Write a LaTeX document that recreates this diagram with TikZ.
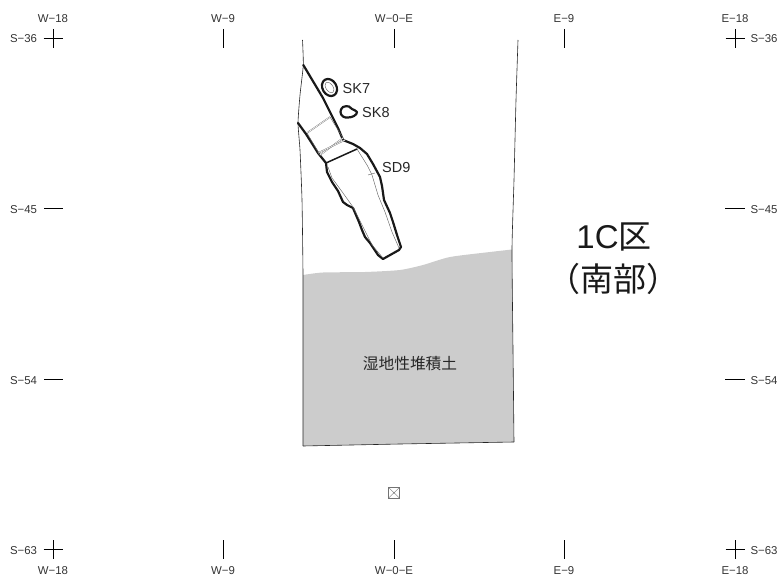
\documentclass[tikz,border=0pt]{standalone}
\usepackage{fontspec}
\setmainfont{Liberation Sans}
\newfontfamily\jpfont{Noto Sans CJK JP}
\tikzset{
  thinline/.style={draw=black!85,line width=0.6pt},
  heavy/.style={draw=black!90,line width=2.2pt,line join=round,line cap=round},
  fineline/.style={draw=black!60,line width=0.45pt},
  gridmark/.style={draw=black,line width=0.7pt},
  gridlabel/.style={inner sep=0pt,text=black!80,font=\fontsize{11.4}{13}\selectfont},
  featlabel/.style={inner sep=0pt,anchor=west,text=black!85,font=\fontsize{14.5}{16}\selectfont},
}
\begin{document}
\begin{tikzpicture}[x=1pt,y=-1pt]
\useasboundingbox (0,0) rectangle (782,580);
% gray deposit
\fill[black!20] plot[smooth,tension=.4] coordinates {(303,275) (323,272.5) (365,272) (400,270) (423,265) (450,257) (490,252) (512,249.5)} -- (514,442) -- (400,444) -- (303,446) -- cycle;
% trench outline
\draw[thinline] plot[smooth,tension=.3] coordinates {(302.5,40) (303.3,65) (300,95) (298,123) (300,150) (302,200) (303,275) (303,360) (303,446)};
\draw[thinline] (303,446) -- (400,444) -- (514,442);
\draw[thinline] plot[smooth,tension=.3] coordinates {(518,40) (516,100) (514,180) (512,249) (513,350) (514,442)};
% SD9 and ditch, heavy outline
\draw[heavy] (303.3,65) -- (323,98) -- (328,108) -- (338,128) -- (343,140) -- (353,144) -- (360,148) -- (367,154) -- (373,164) -- (380,177) -- (382,186) -- (384,200) -- (390,213) -- (393,222) -- (397,235) -- (401,247) -- (399,250) -- (383,259) -- (378,255) -- (370,243) -- (365,237) -- (362,230) -- (359,222) -- (353,208) -- (347,205) -- (343,202) -- (338,191) -- (332,182) -- (327,172) -- (326,163) -- (318,153) -- (313,145) -- (306,134) -- (298,123);
\draw[heavy,line width=1.5pt] (326,163) -- (357,149);
% inner thin lines
\draw[fineline,double,double distance=0.6pt,line width=.35pt] (307,133) -- (330,117);
\draw[fineline,double,double distance=0.6pt,line width=.35pt] (320,155) -- (343,138);
\draw[fineline,double,double distance=0.6pt,line width=.35pt] (318,153) -- (345,140);
\draw[fineline] (307,133) -- (320,155);
\draw[fineline] (330,117) -- (343,138);
\draw[fineline] (357,149) -- (367,165) -- (372,175) -- (378,195) -- (385,212) -- (392,232) -- (399,248);
\draw[fineline] (328,167) -- (332,178) -- (343,193) -- (353,207) -- (362,225) -- (372,245) -- (383,258);
\draw[fineline] (368,175) -- (375,173);
% pits
\draw[heavy,rotate around={30:(329.5,87.5)}] (329.5,87.5) ellipse (7 and 9);
\draw[fineline,rotate around={35:(329.5,87.5)}] (329.5,87.5) ellipse (3.5 and 6);
\draw[heavy] plot[smooth cycle,tension=.7] coordinates {(340.5,112) (343,107) (349,106.5) (352,109) (357,112) (354,116) (348,117.5) (343,116.5)};
% marker
\draw[draw=black!55,line width=0.6pt] (388.5,487.5) rectangle (399.5,498);
\draw[draw=black!55,line width=0.4pt] (388.5,487.5) -- (399.5,498) (399.5,487.5) -- (388.5,498);
% grid marks
\foreach \x in {223,394,564} {
  \draw[gridmark] (\x,29) -- (\x,48);
  \draw[gridmark] (\x,540) -- (\x,559);
}
\foreach \x in {53,735} {
  \draw[gridmark] (\x,29) -- (\x,48);
  \draw[gridmark] (\x,540) -- (\x,559);
  \draw[gridmark] (\x-9.5,38.5) -- (\x+9.5,38.5);
  \draw[gridmark] (\x-9.5,549.5) -- (\x+9.5,549.5);
}
\foreach \y in {208.5,379.5} {
  \draw[gridmark] (44,\y) -- (63,\y);
  \draw[gridmark] (725,\y) -- (745,\y);
}
% grid labels
\node[gridlabel] (tw18) at (53,18.8) {W−18};
\node[gridlabel] (tw9) at (223,18.8) {W−9};
\node[gridlabel] (t0) at (394,18.8) {W−0−E};
\node[gridlabel] (te9) at (564,18.8) {E−9};
\node[gridlabel] (te18) at (735,18.8) {E−18};
\node[gridlabel] (bw18) at (53,570.8) {W−18};
\node[gridlabel] (bw9) at (223,570.8) {W−9};
\node[gridlabel] (b0) at (394,570.8) {W−0−E};
\node[gridlabel] (be9) at (564,570.8) {E−9};
\node[gridlabel] (be18) at (735,570.8) {E−18};
\node[gridlabel] (l36) at (23.5,39) {S−36};
\node[gridlabel] (l45) at (23.5,209.5) {S−45};
\node[gridlabel] (l54) at (23.5,380.5) {S−54};
\node[gridlabel] (l63) at (23.5,550.5) {S−63};
\node[gridlabel] (r36) at (764,39) {S−36};
\node[gridlabel] (r45) at (764,209.5) {S−45};
\node[gridlabel] (r54) at (764,380.5) {S−54};
\node[gridlabel] (r63) at (764,550.5) {S−63};
% feature labels
\node[featlabel] (sk7) at (342.5,88.5) {SK7};
\node[featlabel] (sk8) at (362,112.5) {SK8};
\node[featlabel] (sd9) at (382,167.5) {SD9};
\node[inner sep=0pt,text=black!85,font=\jpfont\fontsize{15.7}{17}\selectfont] (wet) at (410,364) {湿地性堆積土};
\node[inner sep=0pt,text=black!90,font=\fontsize{33}{36}\selectfont] (area) at (614,237) {1C{\jpfont 区}};
\node[inner sep=0pt,text=black!90,font=\jpfont\fontsize{33}{36}\selectfont] (south) at (613,279) {（南部）};
\end{tikzpicture}
\end{document}
